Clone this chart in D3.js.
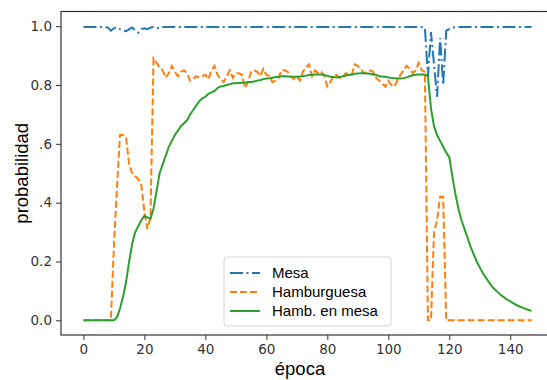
<!DOCTYPE html>
<html lang="es">
<head>
    <meta charset="UTF-8">
    <title>probabilidad por época</title>
    <script src="https://d3js.org/d3.v7.min.js"></script>
    <style>
        body{
            margin: 0;
            background-color: white;
        }
        #canvas{
            display: block;
        }
        .tick text{
            font-family: "DejaVu Sans", sans-serif;
            font-size: 13.5px;
            fill: #333;
        }
        .tick line{
            stroke: #333;
        }
        .axisLabel{
            font-family: "Liberation Sans", Arial, sans-serif;
            font-size: 18.5px;
            fill: black;
        }
        .legendText{
            font-family: "Liberation Sans", Arial, sans-serif;
            font-size: 15px;
            fill: black;
        }
    </style>
</head>
<body>
    <svg id="canvas" width="547" height="380"></svg>
    <script>
        // epochs 0..147
        let epocas = d3.range(148);

        let mesa = [
            0.997, 0.997, 0.997, 0.997, 0.997, 0.997, 0.997, 0.997,
            0.996, 0.985, 0.993, 0.997, 0.99, 0.985, 0.983, 0.99, 0.996, 0.986, 0.978, 0.99,
            0.993, 0.99, 0.995, 0.997, 0.993, 0.995,
            0.997, 0.997, 0.997, 0.997, 0.997, 0.997, 0.997, 0.997, 0.997, 0.997,
            0.997, 0.997, 0.997, 0.997, 0.997, 0.997, 0.997, 0.997, 0.997, 0.997,
            0.997, 0.997, 0.997, 0.997, 0.997, 0.997, 0.997, 0.997, 0.997, 0.997,
            0.997, 0.997, 0.997, 0.997, 0.997, 0.997, 0.997, 0.997, 0.997, 0.997,
            0.997, 0.997, 0.997, 0.997, 0.997, 0.997, 0.997, 0.997, 0.997, 0.997,
            0.997, 0.997, 0.997, 0.997, 0.997, 0.997, 0.997, 0.997, 0.997, 0.997,
            0.997, 0.997, 0.997, 0.997, 0.997, 0.997, 0.997, 0.997, 0.997, 0.997,
            0.997, 0.997, 0.997, 0.997, 0.997, 0.997, 0.997, 0.997, 0.997, 0.997,
            0.997, 0.997, 0.997, 0.997, 0.997, 0.997,
            0.995, 0.83, 0.98, 0.87, 0.76, 0.96, 0.80, 0.985, 0.99, 0.995,
            0.997, 0.997, 0.997, 0.997, 0.997, 0.997, 0.997, 0.997, 0.997, 0.997,
            0.997, 0.997, 0.997, 0.997, 0.997, 0.997, 0.997, 0.997, 0.997, 0.997,
            0.997, 0.997, 0.997, 0.997, 0.997, 0.997
        ];

        let hamburguesa = [
            0, 0, 0, 0, 0, 0, 0, 0, 0, 0,
            0.25, 0.45, 0.63, 0.63, 0.62, 0.53, 0.50, 0.49, 0.48, 0.46,
            0.37, 0.31, 0.35, 0.89, 0.875, 0.86, 0.85, 0.825, 0.84, 0.865,
            0.845, 0.83, 0.845, 0.85, 0.84, 0.815, 0.82, 0.83, 0.825, 0.83,
            0.835, 0.82, 0.85, 0.865, 0.835, 0.82, 0.81, 0.83, 0.85, 0.825,
            0.84, 0.84, 0.835, 0.79, 0.81, 0.845, 0.85, 0.845, 0.83, 0.855,
            0.835, 0.83, 0.81, 0.815, 0.825, 0.85, 0.85, 0.845, 0.83, 0.82,
            0.83, 0.815, 0.845, 0.86, 0.87, 0.83, 0.85, 0.84, 0.845, 0.83,
            0.795, 0.81, 0.83, 0.835, 0.825, 0.825, 0.84, 0.835, 0.835, 0.87,
            0.865, 0.855, 0.84, 0.845, 0.85, 0.845, 0.825, 0.815, 0.805, 0.795,
            0.815, 0.80, 0.795, 0.815, 0.835, 0.85, 0.865, 0.855, 0.84, 0.85,
            0.875, 0.85, 0.845, 0, 0, 0.30, 0.34, 0.42, 0.42, 0,
            0, 0, 0, 0, 0, 0, 0, 0, 0, 0,
            0, 0, 0, 0, 0, 0, 0, 0, 0, 0,
            0, 0, 0, 0, 0, 0, 0, 0
        ];

        let hambEnMesa = [
            0, 0, 0, 0, 0, 0, 0, 0, 0, 0, 0,
            0.01, 0.04, 0.08, 0.13, 0.20, 0.26, 0.30, 0.32, 0.34,
            0.355, 0.35, 0.345, 0.38, 0.44, 0.50, 0.53, 0.56, 0.59, 0.61,
            0.63, 0.645, 0.66, 0.67, 0.68, 0.70, 0.715, 0.73, 0.745, 0.755,
            0.76, 0.77, 0.775, 0.78, 0.79, 0.795,
            0.797, 0.80, 0.803, 0.806, 0.806, 0.807, 0.808, 0.808, 0.81, 0.81,
            0.812, 0.815, 0.817, 0.82, 0.822, 0.823, 0.825, 0.827, 0.828, 0.83,
            0.83, 0.829, 0.828, 0.828, 0.828, 0.829, 0.83, 0.832, 0.834, 0.835,
            0.836, 0.836, 0.836, 0.834, 0.831, 0.828, 0.827, 0.826, 0.827, 0.829,
            0.832, 0.834, 0.836, 0.838, 0.839, 0.84, 0.84, 0.839, 0.838, 0.836,
            0.834, 0.831, 0.829, 0.828, 0.826, 0.824, 0.823, 0.822, 0.822, 0.823,
            0.826, 0.83, 0.833, 0.835, 0.836, 0.836, 0.835,
            0.83, 0.72, 0.66, 0.63, 0.61, 0.59, 0.57, 0.555,
            0.49, 0.43, 0.38, 0.34, 0.31, 0.28, 0.25, 0.225, 0.20, 0.18,
            0.16, 0.145, 0.13, 0.115, 0.105, 0.095, 0.085, 0.078, 0.07, 0.064,
            0.058, 0.052, 0.047, 0.043, 0.039, 0.035, 0.032
        ];

        let xTicks = [0, 20, 40, 60, 80, 100, 120, 140];
        let yTicks = [0, 0.2, 0.4, 0.6, 0.8, 1.0];
        let yTickLabels = ['0.0', '0.2', '.4', '.6', '0.8', '1.0'];

        let seriesNames = ['Mesa', 'Hamburguesa', 'Hamb. en mesa'];
        let seriesColors = ['#1f77b4', '#ff7f0e', '#2ca02c'];
        let seriesDash = ['13,3.5,2,3.5', '7,3', null];
        let seriesData = [mesa, hamburguesa, hambEnMesa];

        let svg = d3.select('#canvas');
        let plotLeft = 61, plotRight = 554, plotTop = 11.5, plotBottom = 335;

        // matplotlib style 5% margins on both axes
        let x = d3.scaleLinear()
            .domain([-7.35, 154.35])
            .range([plotLeft, plotRight]);
        let y = d3.scaleLinear()
            .domain([-0.05, 1.05])
            .range([plotBottom, plotTop]);

        svg.append('clipPath')
            .attr('id', 'plotClip')
            .append('rect')
            .attr('x', plotLeft)
            .attr('y', plotTop)
            .attr('width', plotRight - plotLeft)
            .attr('height', plotBottom - plotTop);

        // the lines
        let plot = svg.append('g').attr('clip-path', 'url(#plotClip)');
        seriesData.forEach(function(values, k){
            let line = d3.line()
                .x(function(d, i){ return x(epocas[i]); })
                .y(function(d){ return y(d); });
            plot.append('path')
                .datum(values)
                .attr('d', line)
                .attr('fill', 'none')
                .attr('stroke', seriesColors[k])
                .attr('stroke-width', 2)
                .attr('stroke-dasharray', seriesDash[k]);
        });

        // axes
        let xAxis = svg.append('g')
            .attr('transform', 'translate(0,' + plotBottom + ')')
            .call(d3.axisBottom(x)
                .tickValues(xTicks)
                .tickSize(5)
                .tickPadding(4)
                .tickFormat(d3.format('d')));
        let yAxis = svg.append('g')
            .attr('transform', 'translate(' + plotLeft + ',0)')
            .call(d3.axisLeft(y)
                .tickValues(yTicks)
                .tickSize(5)
                .tickPadding(4)
                .tickFormat(function(d, i){ return yTickLabels[i]; }));
        xAxis.select('.domain').remove();
        yAxis.select('.domain').remove();

        // frame
        svg.append('rect')
            .attr('x', plotLeft)
            .attr('y', plotTop)
            .attr('width', plotRight - plotLeft)
            .attr('height', plotBottom - plotTop)
            .attr('fill', 'none')
            .attr('stroke', '#333')
            .attr('stroke-width', 1.2);

        svg.append('text')
            .attr('class', 'axisLabel')
            .attr('x', 300)
            .attr('y', 375)
            .attr('text-anchor', 'middle')
            .text('época');
        svg.append('text')
            .attr('class', 'axisLabel')
            .attr('transform', 'translate(28,' + (plotTop + plotBottom) / 2 + ') rotate(-90)')
            .attr('text-anchor', 'middle')
            .text('probabilidad');

        // legend
        let legend = svg.append('g').attr('transform', 'translate(224,257)');
        legend.append('rect')
            .attr('width', 167)
            .attr('height', 69)
            .attr('rx', 3)
            .attr('fill', 'white')
            .attr('fill-opacity', 0.85)
            .attr('stroke', '#d5d5d5');
        seriesNames.forEach(function(name, k){
            let row = legend.append('g').attr('transform', 'translate(0,' + (16 + k * 19) + ')');
            row.append('line')
                .attr('x1', 6)
                .attr('x2', 36)
                .attr('stroke', seriesColors[k])
                .attr('stroke-width', 2)
                .attr('stroke-dasharray', seriesDash[k]);
            row.append('text')
                .attr('class', 'legendText')
                .attr('x', 48)
                .attr('y', 5)
                .text(name);
        });
    </script>
</body>
</html>
